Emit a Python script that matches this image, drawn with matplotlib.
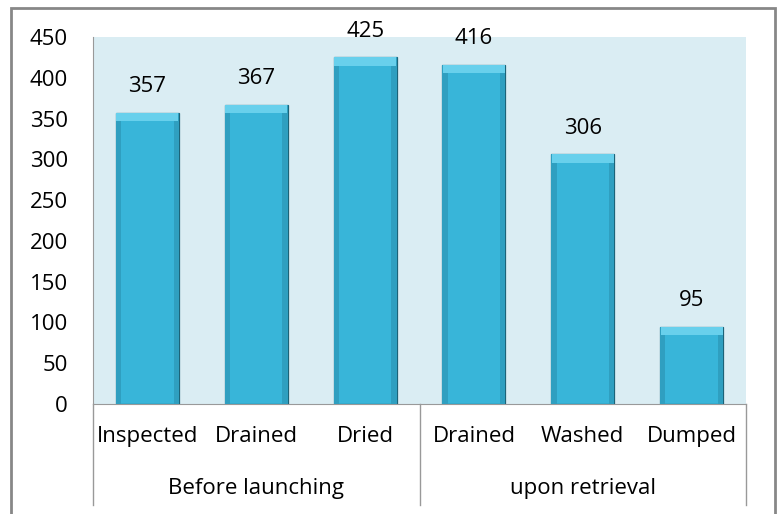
import matplotlib.pyplot as plt
from matplotlib.patches import Rectangle

categories = ['Inspected', 'Drained', 'Dried', 'Drained', 'Washed', 'Dumped']
values = [357, 367, 425, 416, 306, 95]
groups = ['Before launching', 'upon retrieval']
group_sizes = [3, 3]
yticks = [0, 50, 100, 150, 200, 250, 300, 350, 400, 450]

plt.rcParams['font.family'] = ['Open Sans', 'DejaVu Sans']
fs = 16

W, H = 779, 514
fig = plt.figure(figsize=(W / 100, H / 100), dpi=100)
left, right, top, bottom = 93, 746, 37, 404
ax = fig.add_axes([left / W, 1 - bottom / H, (right - left) / W, (bottom - top) / H])
ax.set_facecolor('#DAEDF3')

x = range(len(categories))
bw = 0.58
ax.bar(x, values, width=bw, color='#38B5D9', edgecolor='#1C6378', linewidth=0.9, zorder=3)
# bevel: slightly darker side strips and lighter top strip
ax.bar([i - bw / 2 + 0.025 for i in x], values, width=0.05, color='#2F9FC0', linewidth=0, zorder=4)
ax.bar([i + bw / 2 - 0.025 for i in x], values, width=0.05, color='#2F9FC0', linewidth=0, zorder=4)
ax.bar(x, [10] * len(values), bottom=[v - 10 for v in values], width=bw - 0.01,
       color='#68D0EC', linewidth=0, zorder=5)

for i, v in zip(x, values):
    ax.text(i, v + 32, str(v), ha='center', va='center', fontsize=fs)

ax.set_xlim(-0.5, len(categories) - 0.5)
ax.set_ylim(0, 450)
ax.set_yticks(yticks)
ax.tick_params(axis='y', labelsize=fs, length=0, pad=18)
ax.set_xticks([])
for s in ['top', 'right']:
    ax.spines[s].set_visible(False)
ax.spines['left'].set_color('#999999')
ax.spines['bottom'].set_color('#999999')

# category labels and group labels
for i, c in enumerate(categories):
    ax.text(i, -40, c, ha='center', va='center', fontsize=fs, clip_on=False)
pos = -0.5
for g, n in zip(groups, group_sizes):
    ax.text(pos + n / 2, -104, g, ha='center', va='center', fontsize=fs, clip_on=False)
    pos += n
seps = [-0.5]
for n in group_sizes:
    seps.append(seps[-1] + n)
for s in seps:
    ax.plot([s, s], [0, -124], color='#999999', lw=1, clip_on=False)

# outer chart border
fig.patches.append(Rectangle((11 / W, -0.01), (775 - 11) / W, 1 - 8 / H + 0.01,
                             transform=fig.transFigure, fill=False,
                             edgecolor='#878787', lw=2))

fig.savefig('out.png', dpi=100)
